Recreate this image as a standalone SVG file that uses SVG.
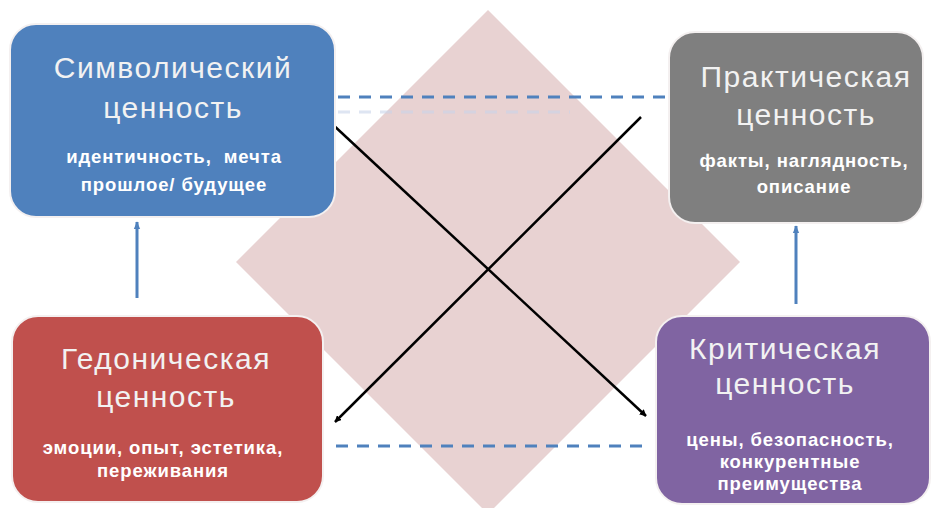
<svg xmlns="http://www.w3.org/2000/svg" width="932" height="508" viewBox="0 0 932 508">
<defs>
<marker id="ah" viewBox="0 0 10 10" refX="9" refY="5" markerWidth="7" markerHeight="7" orient="auto" markerUnits="userSpaceOnUse">
<path d="M0,0 L10,5 L0,10 z" fill="#000"/>
</marker>
<marker id="bh" viewBox="0 0 10 10" refX="9" refY="5" markerWidth="8" markerHeight="8" orient="auto" markerUnits="userSpaceOnUse">
<path d="M0,1 L10,5 L0,9 z" fill="#4f81bd"/>
</marker>
<style>
.box{stroke:#f4f0f0;stroke-width:2}
.t{font-family:"Liberation Sans",Arial,sans-serif;font-size:30px;letter-spacing:1.5px;fill:#f2f2f2;text-anchor:middle}
.s{font-family:"Liberation Sans",Arial,sans-serif;font-size:18.5px;font-weight:bold;letter-spacing:0.9px;fill:#ffffff;text-anchor:middle;white-space:pre}
.dash{stroke:#4f81bd;stroke-width:3;stroke-dasharray:12 9;fill:none}
.ghost{stroke:#c8d4ea;stroke-width:3;stroke-dasharray:12 9;fill:none;opacity:0.6}
.blk{stroke:#000;stroke-width:2.5;fill:none;marker-end:url(#ah)}
.blu{stroke:#4f81bd;stroke-width:3;fill:none;marker-end:url(#bh)}
</style>
</defs>
<rect width="932" height="508" fill="#ffffff"/>
<polygon id="diamond" points="488,10 740,262 488,514 236,262" fill="#e8d2d2"/>
<g id="connectors">
<line class="ghost" x1="338" y1="112" x2="570" y2="112"/>
<line class="dash" x1="338" y1="97" x2="665" y2="97"/>
<line class="dash" x1="336" y1="446" x2="648" y2="446"/>
<line class="blk" x1="330" y1="122" x2="646" y2="416"/>
<line class="blk" x1="641" y1="117" x2="335" y2="422"/>
<line class="blu" x1="137" y1="298" x2="137" y2="222"/>
<line class="blu" x1="796" y1="304" x2="796" y2="226"/>
</g>
<g id="symbolic">
<rect class="box" x="10" y="24" width="325" height="193" rx="26" fill="#4f81bd"/>
<text class="t" x="173" y="78">Символический</text>
<text class="t" x="173" y="118">ценность</text>
<text class="s" x="174" y="163">идентичность,  мечта</text>
<text class="s" x="174" y="191">прошлое/ будущее</text>
</g>
<g id="practical">
<rect class="box" x="669" y="32" width="254" height="191" rx="26" fill="#7f7f7f"/>
<text class="t" x="806" y="87">Практическая</text>
<text class="t" x="806" y="125">ценность</text>
<text class="s" x="804" y="167">факты, наглядность,</text>
<text class="s" x="804" y="193">описание</text>
</g>
<g id="hedonic">
<rect class="box" x="12" y="316" width="311" height="186" rx="26" fill="#c0504d"/>
<text class="t" x="166" y="369">Гедоническая</text>
<text class="t" x="166" y="407">ценность</text>
<text class="s" x="163" y="454">эмоции, опыт, эстетика,</text>
<text class="s" x="163" y="477">переживания</text>
</g>
<g id="critical">
<rect class="box" x="656" y="316" width="274" height="188" rx="26" fill="#8064a2"/>
<text class="t" x="785" y="359">Критическая</text>
<text class="t" x="785" y="394">ценность</text>
<text class="s" x="790" y="446">цены, безопасность,</text>
<text class="s" x="790" y="468">конкурентные</text>
<text class="s" x="790" y="490">преимущества</text>
</g>
</svg>
